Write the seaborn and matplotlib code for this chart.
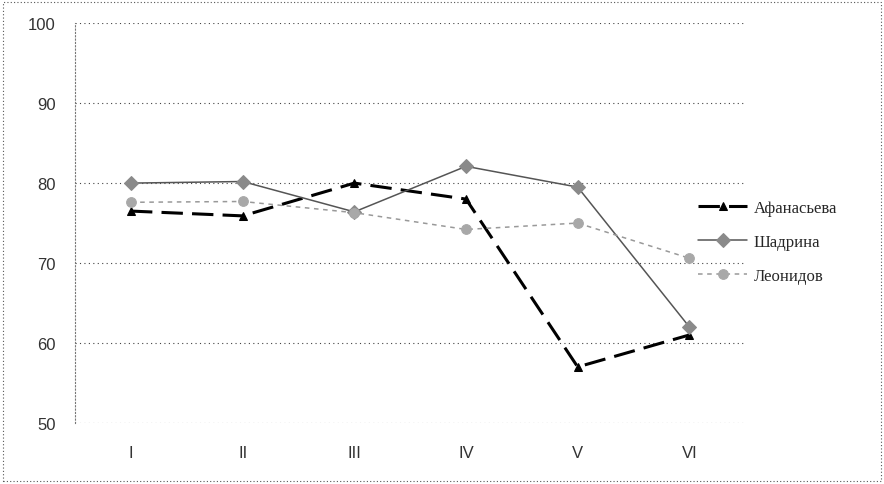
import pandas as pd
import matplotlib.pyplot as plt
import seaborn as sns
from matplotlib.patches import Rectangle

# data
stages = ['I', 'II', 'III', 'IV', 'V', 'VI']
afanasieva = [76.5, 75.9, 80.0, 78.0, 57.0, 61.0]
shadrina = [80.0, 80.2, 76.4, 82.1, 79.5, 62.0]
leonidov = [77.6, 77.7, 76.3, 74.2, 75.0, 70.6]
names = ['Афанасьева', 'Шадрина', 'Леонидов']

sns.set_style('white')
plt.rcParams['font.family'] = ['Liberation Sans', 'DejaVu Sans']

fig = plt.figure(figsize=(8.84, 4.85), dpi=100)
ax = fig.add_axes([0.085, 0.126, 0.758, 0.824])

styles = [
    dict(color='black', lw=2.2, ls=(0, (7, 3)), marker='^', ms=6, mfc='black', mec='black'),
    dict(color='#555555', lw=1.1, ls='-', marker='D', ms=7, mfc='#8a8a8a', mec='#8a8a8a'),
    dict(color='#999999', lw=1.1, ls=(0, (3, 3)), marker='o', ms=7, mfc='#a8a8a8', mec='#a8a8a8'),
]
for name, vals, st in zip(names, [afanasieva, shadrina, leonidov], styles):
    sns.lineplot(x=stages, y=vals, ax=ax, label=name, sort=False, **st)

ax.set_ylim(50, 100)
ax.set_yticks(range(50, 101, 10))
ax.set_xlim(-0.5, 5.5)
ax.grid(axis='y', ls=(0, (1, 3)), color='#444444', lw=0.8)
for side in ['top', 'right', 'bottom']:
    ax.spines[side].set_visible(False)
ax.spines['left'].set_linestyle((0, (1, 2)))
ax.spines['left'].set_color('#777777')
ax.tick_params(axis='both', length=0, labelsize=12, colors='#333333')
ax.tick_params(axis='y', pad=14)
ax.tick_params(axis='x', pad=16)
ax.set_xlabel('')
ax.set_ylabel('')

leg = ax.legend(loc='center left', bbox_to_anchor=(0.79, 0.499), bbox_transform=fig.transFigure,
                frameon=False, borderpad=0, borderaxespad=0,
                prop={'family': 'Liberation Serif', 'size': 12}, handlelength=2.9,
                handletextpad=0.4, labelspacing=1.1)

# dotted frame round the whole picture
fig.patches.append(Rectangle((0.003, 0.006), 0.994, 0.988, transform=fig.transFigure,
                             fill=False, ls=(0, (1, 2)), lw=0.8, ec='#555555'))

plt.savefig('out.png', dpi=100)
